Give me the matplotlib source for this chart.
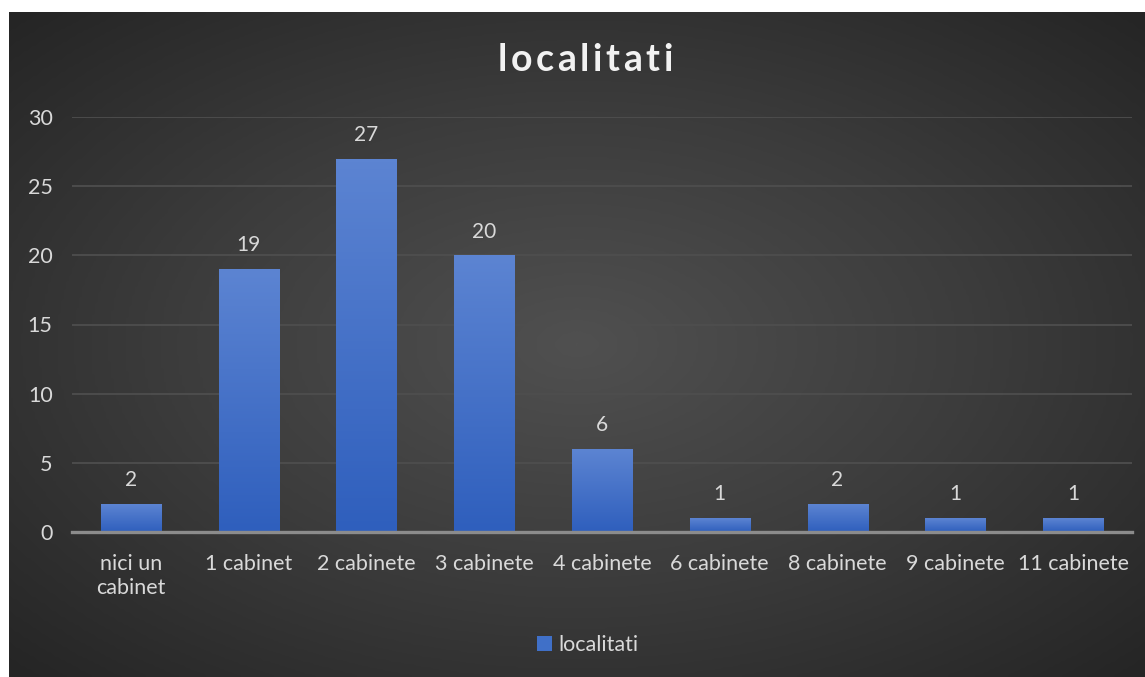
'''Bar chart of localitati by number of cabinete.'''
import matplotlib.pyplot as plt
import numpy as np
from matplotlib.colors import LinearSegmentedColormap
from matplotlib.patches import Patch

categories = ['nici un\ncabinet', '1 cabinet', '2 cabinete', '3 cabinete', '4 cabinete',
              '6 cabinete', '8 cabinete', '9 cabinete', '11 cabinete']
values = [2, 19, 27, 20, 6, 1, 2, 1, 1]
series_name = 'localitati'
y_ticks = [0, 5, 10, 15, 20, 25, 30]

plt.rcParams['font.family'] = ['Lato', 'DejaVu Sans']
text_col = '#d9d9d9'

fig = plt.figure(figsize=(11.45, 6.77), dpi=100)
fig.patch.set_facecolor('white')

# dark radial background panel
bg = fig.add_axes([9 / 1145, 0, 1 - 9 / 1145, 1 - 12 / 677])
bg.set_axis_off()
gx, gy = np.meshgrid(np.linspace(-1, 1, 400), np.linspace(-1, 1, 240))
r = np.clip(np.sqrt(gx ** 2 + gy ** 2) / 1.41, 0, 1)
bg_cmap = LinearSegmentedColormap.from_list('bg', ['#505050', '#3c3c3c', '#252525'])
bg.imshow(r, cmap=bg_cmap, vmin=0, vmax=1, aspect='auto',
          extent=[0, 1, 0, 1], interpolation='bilinear')
bg.set_xlim(0, 1)
bg.set_ylim(0, 1)

ax = fig.add_axes([72 / 1145, 1 - 532 / 677, (1132 - 72) / 1145, (532 - 117) / 677])
ax.patch.set_alpha(0)
x = np.arange(len(categories))
bars = ax.bar(x, values, width=0.51, color='#3a68c4', zorder=3)

# vertical gradient inside each bar
grad = np.linspace(0, 1, 100).reshape(-1, 1)
cmap = LinearSegmentedColormap.from_list('b', ['#2f5fbd', '#5c84d2'])
for b in bars:
    im = ax.imshow(grad, cmap=cmap, aspect='auto', origin='lower', zorder=4,
                   extent=[b.get_x(), b.get_x() + b.get_width(), 0, b.get_height()])
    im.set_clip_path(b)

for xi, v in zip(x, values):
    ax.text(xi, v + 1.0, str(v), ha='center', va='bottom', color=text_col, fontsize=15, zorder=5)

ax.set_xlim(-0.5, len(categories) - 0.5)
ax.set_ylim(0, 30)
ax.set_yticks(y_ticks)
ax.set_xticks(x)
ax.set_xticklabels(categories, fontsize=15.5, color=text_col, linespacing=1.25)
ax.tick_params(axis='y', labelsize=15.5, labelcolor=text_col, length=0, pad=14)
ax.tick_params(axis='x', length=0, pad=16)
ax.grid(axis='y', color='#4e4e4e', linewidth=1.3, zorder=0)
for s in ['top', 'right', 'left']:
    ax.spines[s].set_visible(False)
ax.spines['bottom'].set_color('#8c8c8c')
ax.spines['bottom'].set_linewidth(2.4)
ax.spines['bottom'].set_zorder(6)

# title with letter spacing, drawn char by char
title_size = 27
spacing = 3.5
renderer = fig.canvas.get_renderer()
widths = []
for ch in series_name:
    t = fig.text(0, 0, ch, fontsize=title_size, fontweight='bold')
    widths.append(t.get_window_extent(renderer).width)
    t.remove()
total = sum(widths) + spacing * (len(series_name) - 1)
cx = 585
px = cx - total / 2
for ch, w in zip(series_name, widths):
    fig.text(px / 1145, 1 - 60 / 677, ch, ha='left', va='center',
             fontsize=title_size, fontweight='bold', color='#f2f2f2')
    px += w + spacing

fig.legend(handles=[Patch(facecolor='#4070c8', label=series_name)],
           loc='center', bbox_to_anchor=(588 / 1145, 1 - 645 / 677), frameon=False,
           fontsize=15.5, labelcolor=text_col, handlelength=0.7, handleheight=0.7,
           handletextpad=0.3)

fig.savefig('out.png', dpi=100, facecolor='white')
